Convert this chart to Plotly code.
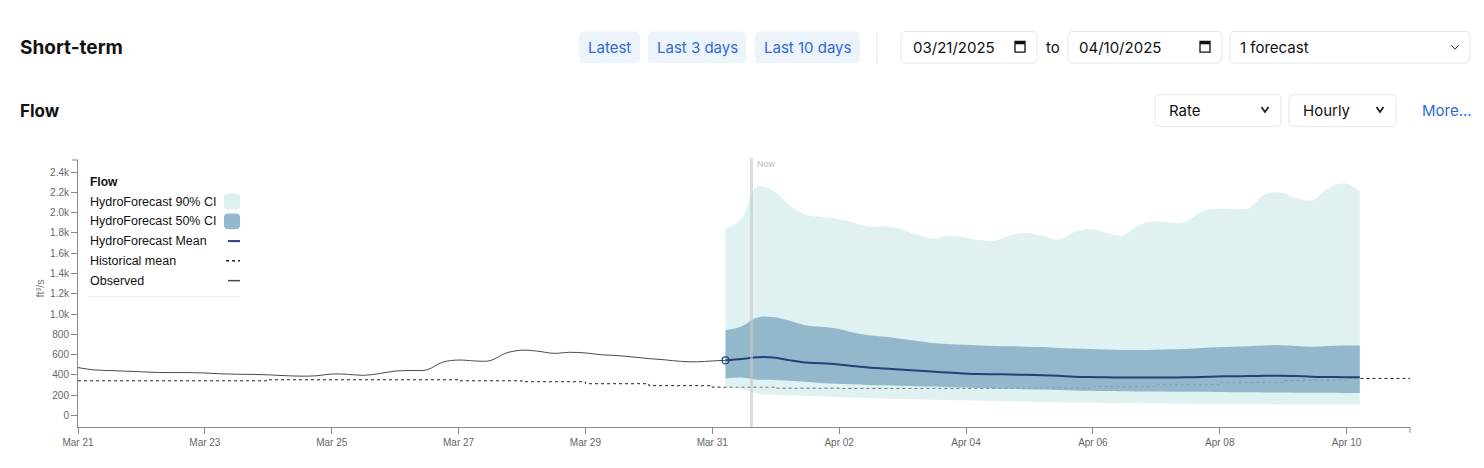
import pandas as pd
import plotly.graph_objects as go

# --- Data (ft³/s) ---
obs_values = [471, 449, 442, 436, 430, 423, 422, 422, 418, 410,
              406, 404, 400, 392, 387, 390, 408, 405, 395, 412,
              437, 443, 449, 525, 546, 537, 540, 615, 643, 633,
              612, 622, 616, 598, 590, 576, 560, 548, 533, 528,
              537, 543]

fc_mean = [543, 555, 574, 572, 545, 522, 515, 505, 488, 472,
           462, 453, 443, 432, 422, 414, 408, 406, 403, 400,
           396, 390, 382, 378, 375, 374, 374, 374, 374, 375,
           378, 383, 386, 388, 390, 392, 388, 382, 378, 377, 376]

ci50_upper = [839, 876, 965, 970, 935, 890, 875, 858, 820, 790,
              775, 757, 735, 715, 705, 697, 690, 685, 682, 678,
              674, 665, 660, 655, 650, 645, 645, 648, 652, 656,
              665, 672, 676, 683, 690, 693, 685, 676, 684, 690, 689]

ci50_lower = [364, 374, 352, 350, 342, 332, 320, 312, 306, 300,
              296, 292, 288, 284, 280, 276, 270, 266, 262, 258,
              255, 250, 246, 243, 240, 238, 236, 235, 234, 234,
              232, 230, 228, 227, 226, 225, 224, 223, 222, 221, 221]

ci90_upper = [1837, 1940, 2255, 2220, 2080, 1980, 1960, 1940, 1905, 1862,
              1863, 1840, 1785, 1745, 1770, 1760, 1730, 1722, 1780, 1800,
              1770, 1735, 1810, 1840, 1805, 1772, 1870, 1915, 1900, 1910,
              2010, 2040, 2035, 2045, 2180, 2200, 2145, 2122, 2240, 2290, 2215]

ci90_lower = [270, 262, 212, 205, 198, 194, 188, 182, 176, 170,
              166, 162, 158, 155, 152, 149, 146, 142, 139, 136,
              132, 130, 127, 125, 123, 121, 119, 117, 115, 114,
              113, 112, 111, 110, 109, 108, 108, 107, 107, 107, 107]

hist_mean = [341, 341, 341, 351, 351, 351, 341, 332, 312, 293, 278,
             268, 266, 266, 267, 269, 283, 302, 325, 344, 364, 364]

y_tick_vals = [0, 200, 400, 600, 800, 1000, 1200, 1400, 1600, 1800, 2000, 2200, 2400]
y_tick_text = ['0', '200', '400', '600', '800', '1.0k', '1.2k', '1.4k',
               '1.6k', '1.8k', '2.0k', '2.2k', '2.4k']

obs_times = list(pd.date_range('2025-03-21', periods=41, freq='6h')) + [pd.Timestamp('2025-03-31 05:00')]
fc_times = pd.date_range('2025-03-31 05:00', periods=41, freq='6h')
hist_times = pd.date_range('2025-03-21', '2025-04-11', freq='D')
now_time = '2025-03-31 14:50'

# colours
C90 = 'rgba(185, 223, 222, 0.45)'
C50 = 'rgba(128, 170, 195, 0.8)'
NAVY = 'rgb(38, 64, 118)'
OBS = '#4a4a4a'
BLUE_TXT = '#2f6bd8'
UI_FONT = 'Inter, Noto Sans, sans-serif'
CHART_FONT = 'Liberation Sans, Arial, sans-serif'

# page geometry; the html body adds an 8px margin, so page pixels are shifted by OFF
OFF = 8
W, H = 1484 - 2 * OFF, 468 - 2 * OFF
PL, PR, PT, PB = 78, 1410, 160, 430   # plot area in page pixels


def px(x):
    return (x - PL) / (PR - PL)


def py(y):
    return (PB - y) / (PB - PT)


def rrect(x0, y0, x1, y1, r=5):
    a, b = px(x0), px(x1)
    c, d = py(y1), py(y0)
    rx, ry = r / (PR - PL), r / (PB - PT)
    return (f"M{a+rx},{c} L{b-rx},{c} Q{b},{c} {b},{c+ry} L{b},{d-ry} Q{b},{d} {b-rx},{d} "
            f"L{a+rx},{d} Q{a},{d} {a},{d-ry} L{a},{c+ry} Q{a},{c} {a+rx},{c} Z")


fig = go.Figure()

# historical mean (dotted, under the bands)
fig.add_trace(go.Scatter(x=hist_times, y=hist_mean, mode='lines', line_shape='hv',
                         line=dict(color='#222', width=1, dash='dot'), showlegend=False))

# 90% CI
fig.add_trace(go.Scatter(x=fc_times, y=ci90_upper, mode='lines', line=dict(width=0, shape='spline'),
                         showlegend=False, hoverinfo='skip'))
fig.add_trace(go.Scatter(x=fc_times, y=ci90_lower, mode='lines', line=dict(width=0, shape='spline'),
                         fill='tonexty', fillcolor=C90, showlegend=False, hoverinfo='skip'))

# 50% CI
fig.add_trace(go.Scatter(x=fc_times, y=ci50_upper, mode='lines', line=dict(width=0, shape='spline'),
                         showlegend=False, hoverinfo='skip'))
fig.add_trace(go.Scatter(x=fc_times, y=ci50_lower, mode='lines', line=dict(width=0, shape='spline'),
                         fill='tonexty', fillcolor=C50, showlegend=False, hoverinfo='skip'))

# observed
fig.add_trace(go.Scatter(x=obs_times, y=obs_values, mode='lines',
                         line=dict(color=OBS, width=1, shape='spline'), showlegend=False))

# forecast mean
fig.add_trace(go.Scatter(x=fc_times, y=fc_mean, mode='lines',
                         line=dict(color=NAVY, width=2, shape='spline'), showlegend=False))
fig.add_trace(go.Scatter(x=fc_times[:1], y=fc_mean[:1], mode='markers',
                         marker=dict(size=7, color='rgba(255,255,255,0)', line=dict(color=NAVY, width=1.2)),
                         showlegend=False))

shapes = []
annotations = []

# "Now" marker
shapes.append(dict(type='line', xref='x', yref='paper', x0=now_time, x1=now_time, y0=0, y1=py(158),
                   line=dict(color='rgba(200,200,200,0.6)', width=3), layer='above'))
annotations.append(dict(xref='paper', yref='paper', x=px(755), y=py(164), text='Now', showarrow=False,
                        xanchor='left', yanchor='middle', font=dict(size=9, color='#bbb', family=CHART_FONT)))

# end ticks of the axes
shapes.append(dict(type='line', xref='paper', yref='paper', x0=1, x1=1, y0=0, y1=py(436),
                   line=dict(color='#888', width=1)))
shapes.append(dict(type='line', xref='paper', yref='paper', x0=px(72), x1=0, y0=1, y1=1,
                   line=dict(color='#888', width=1)))

# y title
annotations.append(dict(xref='paper', yref='paper', x=px(32), y=py(290), text='ft³/s', textangle=-90,
                        showarrow=False, font=dict(size=11, color='#777', family=CHART_FONT)))

# --- custom legend ---
annotations.append(dict(xref='paper', yref='paper', x=px(88), y=py(182), text='<b>Flow</b>',
                        showarrow=False, xanchor='left', yanchor='middle',
                        font=dict(size=12, color='#111', family=CHART_FONT)))
legend_items = ['HydroForecast 90% CI', 'HydroForecast 50% CI', 'HydroForecast Mean',
                'Historical mean', 'Observed']
for i, name in enumerate(legend_items):
    yy = 202 + 20 * i
    annotations.append(dict(xref='paper', yref='paper', x=px(88), y=py(yy), text=name,
                            showarrow=False, xanchor='left', yanchor='middle',
                            font=dict(size=12.5, color='#111', family=CHART_FONT)))
shapes.append(dict(type='path', xref='paper', yref='paper', path=rrect(224, 194, 240, 210, 4),
                   fillcolor='rgb(222, 240, 239)', line=dict(width=0)))
shapes.append(dict(type='path', xref='paper', yref='paper', path=rrect(224, 214, 240, 230, 4),
                   fillcolor='rgb(147, 184, 204)', line=dict(width=0)))
shapes.append(dict(type='line', xref='paper', yref='paper', x0=px(228), x1=px(240), y0=py(242), y1=py(242),
                   line=dict(color=NAVY, width=2)))
shapes.append(dict(type='line', xref='paper', yref='paper', x0=px(226), x1=px(240), y0=py(262), y1=py(262),
                   line=dict(color='#222', width=1.5, dash='dot')))
shapes.append(dict(type='line', xref='paper', yref='paper', x0=px(228), x1=px(240), y0=py(282), y1=py(282),
                   line=dict(color=OBS, width=1.5)))
shapes.append(dict(type='line', xref='paper', yref='paper', x0=px(88), x1=px(240), y0=py(298), y1=py(298),
                   line=dict(color='#eeeeee', width=1)))

# --- page header ---
annotations.append(dict(xref='paper', yref='paper', x=px(18), y=py(46), text='<b>Short-term</b>',
                        showarrow=False, xanchor='left', yanchor='middle',
                        font=dict(size=19, color='#111', family=UI_FONT)))
annotations.append(dict(xref='paper', yref='paper', x=px(18), y=py(110), text='<b>Flow</b>',
                        showarrow=False, xanchor='left', yanchor='middle',
                        font=dict(size=17, color='#111', family=UI_FONT)))

buttons = [('Latest', 579, 640), ('Last 3 days', 648, 746), ('Last 10 days', 755, 860)]
for label, x0, x1 in buttons:
    shapes.append(dict(type='path', xref='paper', yref='paper', path=rrect(x0, 30, x1, 62, 5),
                       fillcolor='#edf3fb', line=dict(width=0)))
    annotations.append(dict(xref='paper', yref='paper', x=px((x0 + x1) / 2), y=py(46), text=label,
                            showarrow=False, xanchor='center', yanchor='middle',
                            font=dict(size=15, color=BLUE_TXT, family=UI_FONT)))
shapes.append(dict(type='line', xref='paper', yref='paper', x0=px(877), x1=px(877), y0=py(30), y1=py(62),
                   line=dict(color='#e5e5e5', width=1)))

# inputs and selects
boxes = [(901, 30, 1037, 62, '03/21/2025', 911),
         (1068, 30, 1222, 62, '04/10/2025', 1077),
         (1230, 30, 1470, 62, '1 forecast', 1238),
         (1155, 94, 1281, 126, 'Rate', 1167),
         (1289, 94, 1396, 126, 'Hourly', 1301)]
for x0, y0, x1, y1, label, tx in boxes:
    shapes.append(dict(type='path', xref='paper', yref='paper', path=rrect(x0, y0, x1, y1, 5),
                       fillcolor='white', line=dict(color='#e3e5e8', width=1)))
    annotations.append(dict(xref='paper', yref='paper', x=px(tx), y=py((y0 + y1) / 2), text=label,
                            showarrow=False, xanchor='left', yanchor='middle',
                            font=dict(size=15, color='#111', family=UI_FONT)))
annotations.append(dict(xref='paper', yref='paper', x=px(1053), y=py(46), text='to',
                        showarrow=False, xanchor='center', yanchor='middle',
                        font=dict(size=15, color='#111', family=UI_FONT)))
annotations.append(dict(xref='paper', yref='paper', x=px(1420), y=py(110), text='More...',
                        showarrow=False, xanchor='left', yanchor='middle',
                        font=dict(size=15, color=BLUE_TXT, family=UI_FONT)))

# calendar icons
for cx in (1020, 1205):
    shapes.append(dict(type='rect', xref='paper', yref='paper', x0=px(cx - 5), x1=px(cx + 5),
                       y0=py(51), y1=py(40), line=dict(color='#111', width=1.3), fillcolor='white'))
    shapes.append(dict(type='rect', xref='paper', yref='paper', x0=px(cx - 5), x1=px(cx + 5),
                       y0=py(43), y1=py(40), line=dict(width=0), fillcolor='#111'))


# chevrons
def chevron(cx, cy, w, h, width):
    return dict(type='path', xref='paper', yref='paper',
                path=f"M{px(cx - w)},{py(cy - h)} L{px(cx)},{py(cy + h)} L{px(cx + w)},{py(cy - h)}",
                line=dict(color='#222', width=width))


shapes.append(chevron(1455, 46, 3.5, 2, 1))
shapes.append(chevron(1265, 109, 3.5, 2.5, 1.8))
shapes.append(chevron(1380, 109, 3.5, 2.5, 1.8))

fig.update_layout(
    width=W, height=H,
    margin=dict(l=PL - OFF, r=W - (PR - OFF), t=PT - OFF, b=H - (PB - OFF), pad=0),
    paper_bgcolor='white', plot_bgcolor='white',
    font=dict(family=CHART_FONT, color='#666'),
    showlegend=False,
    shapes=shapes,
    annotations=annotations,
    xaxis=dict(
        range=['2025-03-21', '2025-04-11'],
        tickmode='linear', tick0='2025-03-21', dtick=2 * 86400000,
        tickformat='%b %d',
        showgrid=False, zeroline=False,
        showline=True, linecolor='#888', linewidth=1,
        ticks='outside', ticklen=6, tickcolor='#888',
        tickfont=dict(size=10, color='#666', family=CHART_FONT),
    ),
    yaxis=dict(
        range=[-115, 2520],
        tickvals=y_tick_vals, ticktext=y_tick_text,
        showgrid=False, zeroline=False,
        showline=True, linecolor='#888', linewidth=1,
        ticks='outside', ticklen=6, tickcolor='#888',
        tickfont=dict(size=10, color='#666', family=CHART_FONT),
    ),
)

fig.write_html("out.html")
